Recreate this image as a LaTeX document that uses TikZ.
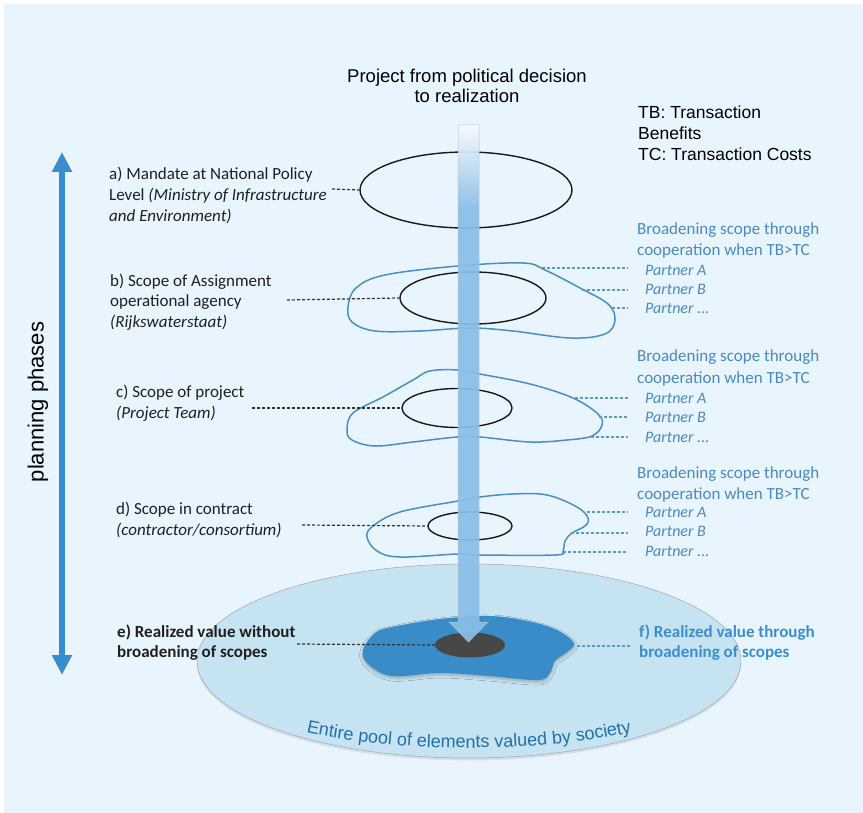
\documentclass[tikz,border=0pt]{standalone}
\usepackage{fontspec}
\setmainfont{Carlito}
\newfontfamily\arialfont{Liberation Sans}
\usetikzlibrary{shapes.geometric,decorations.text,shadows,shadows.blur,arrows.meta}

\definecolor{bgblue}{HTML}{E9F5FE}
\definecolor{scopeblue}{HTML}{4A8FC0}
\definecolor{textblue}{HTML}{4A89BF}
\definecolor{phaseblue}{HTML}{3A8DCB}
\definecolor{poolfill}{HTML}{C6E3F2}
\definecolor{valueblue}{HTML}{3A8CC8}
\definecolor{coregray}{HTML}{474747}
\definecolor{shafttop}{HTML}{F7FAFD}
\definecolor{shaftblue}{HTML}{8BBEE7}
\definecolor{pooltext}{HTML}{2270A8}
\definecolor{fblue}{HTML}{3A8ED0}

% vertical shading of the project shaft: pale at the top, blue below
\pgfdeclareverticalshading{shaftshade}{100bp}{%
  color(0bp)=(shaftblue); color(25bp)=(shaftblue); color(67bp)=(shaftblue);
  color(75bp)=(shafttop); color(100bp)=(shafttop)}

% multi-line nodes are placed by the baseline of their last line
\tikzset{
  phaselabel/.style={font=\fontsize{17}{21}\selectfont, anchor=base west,
    inner sep=0pt, align=left, text=black!88},
  broadtext/.style={font=\fontsize{17}{21}\selectfont, anchor=base west,
    inner sep=0pt, align=left, text=textblue},
  partnertext/.style={font=\fontsize{16}{19.5}\selectfont\itshape, anchor=base west,
    inner sep=0pt, align=left, text=textblue},
  sanstext/.style={font=\arialfont\fontsize{17.5}{21}\selectfont, inner sep=0pt},
  scopering/.style={ellipse, draw=black!90, line width=1.4pt, inner sep=0pt},
  scopeblob/.style={draw=scopeblue, line width=1.5pt},
  leader/.style={draw=black!80, line width=1.2pt, dash pattern=on 3pt off 2pt},
  partnerleader/.style={draw=scopeblue!90, line width=1.2pt, dash pattern=on 3pt off 2pt},
}

\begin{document}
\begin{tikzpicture}[x=1pt,y=-1pt]
\useasboundingbox (0,0) rectangle (863,813);
\fill[white] (0,0) rectangle (863,813);
\fill[bgblue] (4,4) rectangle (863,813);

% pool of elements valued by society
\node[ellipse, minimum width=544pt, minimum height=194pt, fill=poolfill,
  draw=black!35, line width=0.5pt, inner sep=0pt,
  drop shadow={opacity=0.18, shadow xshift=0pt, shadow yshift=-2.5pt}]
  (pool) at (469,661) {};
\path[decorate, decoration={text along path, text align=center,
  text={|\arialfont\fontsize{18}{18}\selectfont\color{pooltext}|Entire pool of elements valued by society}}]
  (469,661) ++(150:285 and 87) arc[start angle=150, end angle=30, x radius=285, y radius=87];

% realized value through broadening
\fill[valueblue, blur shadow={shadow xshift=0pt, shadow yshift=-2pt, shadow blur radius=3pt, shadow opacity=25}]
  plot[smooth cycle, tension=0.6] coordinates {(363,650) (375,633) (392,627) (440,619) (489,616)
  (528,621) (557,630) (574,643) (567,652) (555,661) (550,673) (538,680) (489,676) (440,673)
  (392,676) (368,664)};
\node[ellipse, minimum width=70pt, minimum height=25pt, fill=coregray, inner sep=0pt] (core) at (470,645) {};

% scopes of the planning phases
\draw[scopeblob] plot[smooth cycle, tension=0.6] coordinates {(348,307) (356,288) (385,275)
  (458,266) (523,263) (545,270) (580,288) (608,304) (615,320) (605,334) (570,338) (513,331)
  (470,328) (420,331) (375,331) (352,322)};
\coordinate (bA) at (542,268); \coordinate (bB) at (582,290); \coordinate (bC) at (612,308);

\draw[scopeblob] plot[smooth cycle, tension=0.6] coordinates {(347,430) (353,413) (383,397)
  (413,380) (430,371) (458,370) (480,374) (530,384) (573,398) (598,414) (602,425) (592,436)
  (567,440) (530,442) (480,437) (457,437) (413,442) (375,446) (352,440)};
\coordinate (cA) at (575,398); \coordinate (cB) at (599,417); \coordinate (cC) at (591,437);

\draw[scopeblob] plot[smooth cycle, tension=0.6] coordinates {(367,537) (373,526) (400,512)
  (458,501) (480,497) (513,494) (547,495) (577,507) (588,518) (585,526) (572,533) (565,541)
  (563,551) (555,555) (480,555) (458,554) (400,557) (377,551)};
\coordinate (dA) at (587,512); \coordinate (dB) at (571,533); \coordinate (dC) at (563,552);

\node[scopering, minimum width=212pt, minimum height=76pt] (scopeA) at (466,190) {};
\node[scopering, minimum width=146pt, minimum height=52pt] (scopeB) at (473,298) {};
\node[scopering, minimum width=110pt, minimum height=39pt] (scopeC) at (457,408) {};
\node[scopering, minimum width=84pt, minimum height=28pt] (scopeD) at (470,526) {};

% project shaft from decision to realization
\path[shading=shaftshade, draw=black!25, line width=0.5pt, opacity=0.93]
  (458,125) -- (479,125) -- (479,622) -- (488,622) -- (468.5,642) -- (449,622) -- (458,622) -- cycle;

% planning phases axis
\coordinate (phTop) at (62,152);
\coordinate (phBot) at (62,675);
\draw[phaseblue, line width=5.5pt, {Triangle[width=19pt,length=20pt]}-{Triangle[width=19pt,length=20pt]}]
  (phTop) -- (phBot);
\node[sanstext, font=\arialfont\fontsize{22}{22}\selectfont, rotate=90] (phases) at (38,402) {planning phases};

% headings
\node[sanstext, font=\arialfont\fontsize{18.5}{20}\selectfont, align=center, anchor=base] (title) at (467,103)
  {Project from political decision\\to realization};
\node[sanstext, align=left, anchor=base west] (legend) at (638,161)
  {TB: Transaction\\Benefits\\TC: Transaction Costs};

% phase labels
\node[phaselabel] (labA) at (109,222)
  {a) Mandate at National Policy\\Level \textit{(Ministry of Infrastructure}\\\textit{and Environment)}};
\node[phaselabel] (labB) at (110,328)
  {b) Scope of Assignment\\operational agency\\\textit{(Rijkswaterstaat)}};
\node[phaselabel] (labC) at (116,418)
  {c) Scope of project\\\textit{(Project Team)}};
\node[phaselabel] (labD) at (116,535)
  {d) Scope in contract\\\textit{(contractor/consortium)}};
\node[phaselabel, font=\bfseries\fontsize{17}{20}\selectfont] (labE) at (117,657)
  {e) Realized value without\\broadening of scopes};
\node[phaselabel, font=\bfseries\fontsize{17}{20}\selectfont, text=fblue] (labF) at (639,657)
  {f) Realized value through\\broadening of scopes};

\coordinate (aStart) at (332,189);
\coordinate (bStart) at (287,300);
\coordinate (cStart) at (252,408);
\coordinate (dStart) at (302,525);
\coordinate (eStart) at (297,644);
\coordinate (fStart) at (577,646);
\coordinate (fEnd) at (630,646);
\draw[leader] (aStart) -- (scopeA.west);
\draw[leader] (bStart) -- (scopeB.west);
\draw[leader] (cStart) -- (scopeC.west);
\draw[leader] (dStart) -- (scopeD.west);
\draw[leader] (eStart) -- (core.west);
\draw[partnerleader] (fStart) -- (fEnd);

% broadening through cooperation
\node[broadtext] (broadb) at (637,256) {Broadening scope through\\cooperation when TB>TC};
\node[broadtext] (broadc) at (637,383) {Broadening scope through\\cooperation when TB>TC};
\node[broadtext] (broadd) at (637,499) {Broadening scope through\\cooperation when TB>TC};
\node[partnertext] (partB) at (645,314) {Partner A\\Partner B\\Partner ...};
\node[partnertext] (partC) at (645,442) {Partner A\\Partner B\\Partner ...};
\node[partnertext] (partD) at (645,556) {Partner A\\Partner B\\Partner ...};

% leaders from each scope outline to its partners
\foreach \s in {b,c,d}{
  \foreach \p in {A,B,C}{
    \coordinate (\s\p end) at (628,0 |- \s\p);
    \draw[partnerleader] (\s\p) -- (\s\p end);
  }
}
\end{tikzpicture}
\end{document}
